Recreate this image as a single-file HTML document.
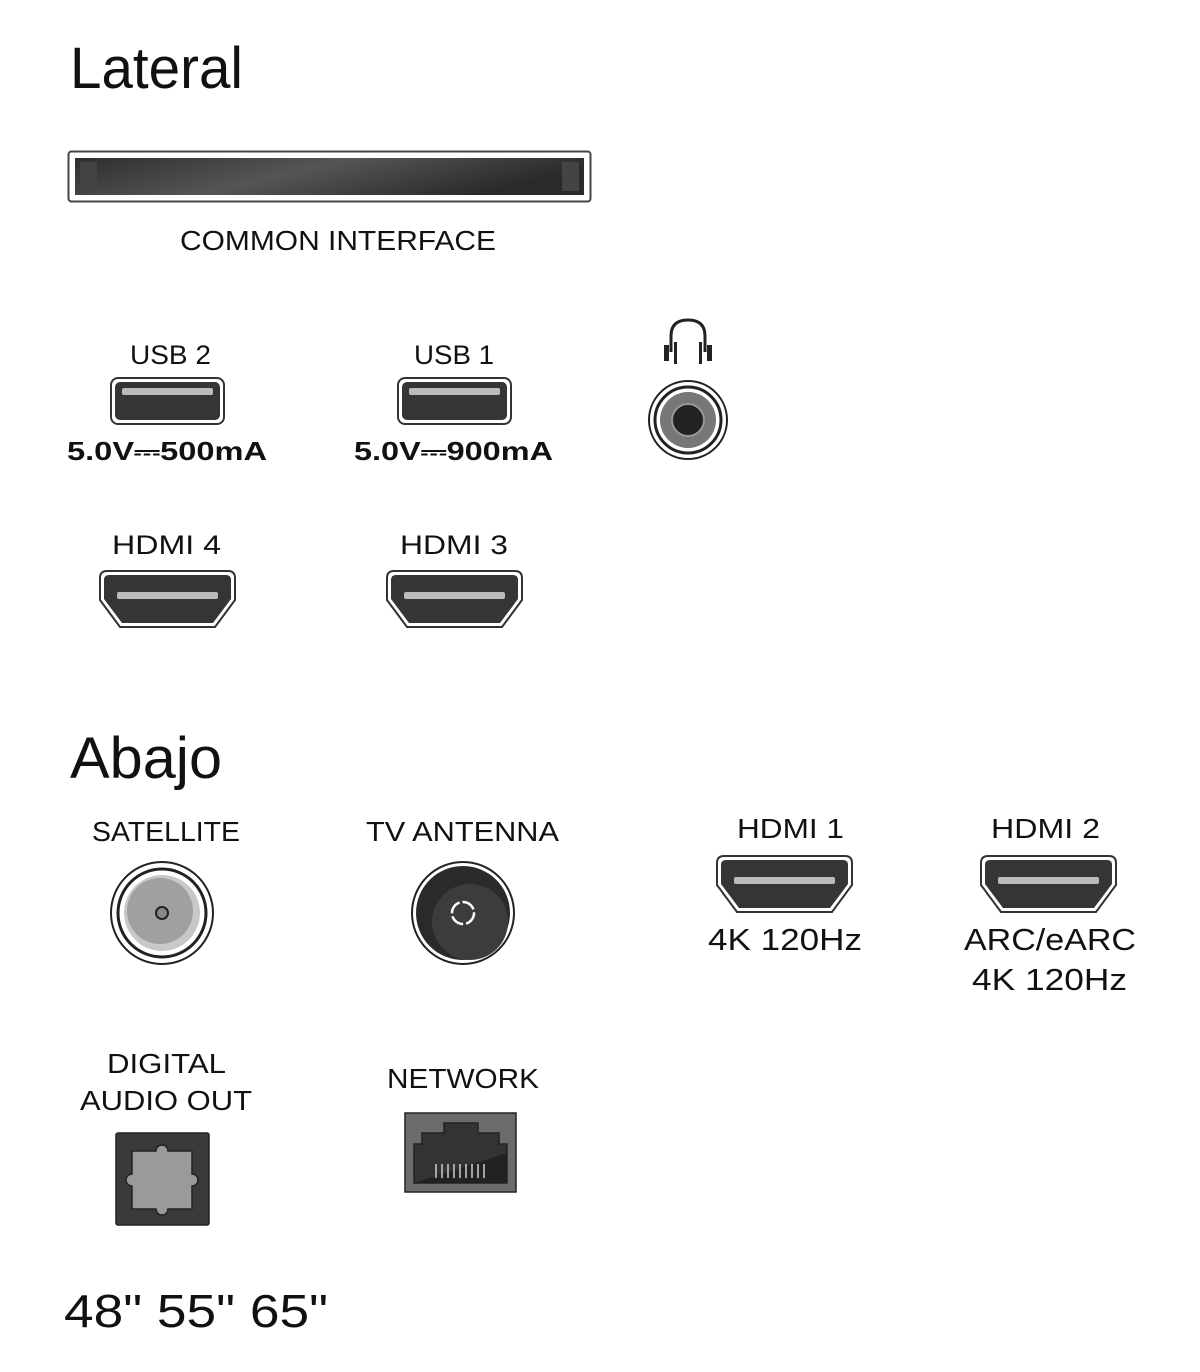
<!DOCTYPE html>
<html><head><meta charset="utf-8"><style>
html,body{margin:0;padding:0;background:#fff;}
svg{display:block}
text{font-family:"Liberation Sans","DejaVu Sans",sans-serif;fill:#111;}
</style></head><body>
<svg width="1200" height="1372" viewBox="0 0 1200 1372" xmlns="http://www.w3.org/2000/svg">
<defs>
<linearGradient id="ci" x1="0" y1="0" x2="1" y2="0.3">
<stop offset="0" stop-color="#2e2e2e"/><stop offset="0.5" stop-color="#555"/><stop offset="1" stop-color="#2a2a2a"/>
</linearGradient>
<g id="hdmi">
<path d="M8,1 H129 Q136,1 136,8 V30 L116,57 H21 L1,30 V8 Q1,1 8,1 Z" fill="#fff" stroke="#333" stroke-width="2"/>
<path d="M10,5 H127 Q132,5 132,10 V29 L114,53 H23 L5,29 V10 Q5,5 10,5 Z" fill="#353535"/>
<rect x="18" y="22" width="101" height="7" rx="2" fill="#bbb"/>
</g>
<g id="usb">
<rect x="1" y="1" width="113" height="46" rx="7" fill="#fff" stroke="#333" stroke-width="2"/>
<rect x="5" y="5" width="105" height="38" rx="5" fill="#353535"/>
<rect x="12" y="11" width="91" height="7" rx="2" fill="#bbb"/>
</g>
</defs>

<text x="70" y="88" font-size="58" textLength="173" lengthAdjust="spacingAndGlyphs">Lateral</text>

<rect x="68.5" y="151.5" width="522" height="50" rx="3" fill="#fff" stroke="#444" stroke-width="2"/>
<rect x="75" y="158" width="509" height="37" fill="url(#ci)"/>
<rect x="80" y="162" width="17" height="29" fill="#444"/>
<rect x="562" y="162" width="17" height="29" fill="#444"/>
<text x="180" y="250" font-size="28" textLength="316" lengthAdjust="spacingAndGlyphs">COMMON INTERFACE</text>

<text x="130" y="364" font-size="27" textLength="81" lengthAdjust="spacingAndGlyphs">USB 2</text>
<use href="#usb" x="110" y="377"/>
<text x="67" y="460" font-size="26" font-weight="bold" fill="#222" textLength="200" lengthAdjust="spacingAndGlyphs">5.0V⎓500mA</text>

<text x="414" y="364" font-size="27" textLength="80" lengthAdjust="spacingAndGlyphs">USB 1</text>
<use href="#usb" x="397" y="377"/>
<text x="354" y="460" font-size="26" font-weight="bold" fill="#222" textLength="199" lengthAdjust="spacingAndGlyphs">5.0V⎓900mA</text>

<!-- headphones -->
<path d="M671,352 V336 Q671,320 688,320 Q705,320 705,336 V352" fill="none" stroke="#222" stroke-width="3"/>
<rect x="664" y="345" width="5" height="16" fill="#222"/>
<rect x="674" y="342" width="3" height="22" fill="#222"/>
<rect x="699" y="342" width="3" height="22" fill="#222"/>
<rect x="707" y="345" width="5" height="16" fill="#222"/>
<circle cx="688" cy="420" r="39" fill="#fff" stroke="#222" stroke-width="2"/>
<circle cx="688" cy="420" r="33" fill="#fff" stroke="#222" stroke-width="3"/>
<circle cx="688" cy="420" r="28" fill="#777"/>
<circle cx="688" cy="420" r="17" fill="#999"/>
<circle cx="688" cy="420" r="15" fill="#222"/>

<text x="112" y="554" font-size="27" textLength="109" lengthAdjust="spacingAndGlyphs">HDMI 4</text>
<use href="#hdmi" x="99" y="570"/>
<text x="400" y="554" font-size="27" textLength="108" lengthAdjust="spacingAndGlyphs">HDMI 3</text>
<use href="#hdmi" x="386" y="570"/>

<text x="70" y="778" font-size="58" textLength="152" lengthAdjust="spacingAndGlyphs">Abajo</text>

<text x="92" y="841" font-size="28" textLength="148" lengthAdjust="spacingAndGlyphs">SATELLITE</text>
<circle cx="162" cy="913" r="51" fill="#fff" stroke="#222" stroke-width="2"/>
<circle cx="162" cy="913" r="44" fill="#fff" stroke="#222" stroke-width="3"/>
<circle cx="162" cy="913" r="38" fill="#c8c8c8"/>
<circle cx="160" cy="911" r="33" fill="#a0a0a0"/>
<circle cx="162" cy="913" r="6" fill="#888" stroke="#222" stroke-width="2"/>

<text x="366" y="841" font-size="28" textLength="193" lengthAdjust="spacingAndGlyphs">TV ANTENNA</text>
<circle cx="463" cy="913" r="51" fill="#fff" stroke="#222" stroke-width="2"/>
<circle cx="463" cy="913" r="47" fill="#2a2a2a"/>
<circle cx="470" cy="922" r="38" fill="#3c3c3c"/>
<circle cx="463" cy="913" r="11" fill="none" stroke="#fff" stroke-width="2.5" stroke-dasharray="14 3"/>

<text x="737" y="838" font-size="28" textLength="107" lengthAdjust="spacingAndGlyphs">HDMI 1</text>
<use href="#hdmi" x="716" y="855"/>
<text x="708" y="950" font-size="31" fill="#333" textLength="154" lengthAdjust="spacingAndGlyphs">4K 120Hz</text>

<text x="991" y="838" font-size="28" textLength="109" lengthAdjust="spacingAndGlyphs">HDMI 2</text>
<use href="#hdmi" x="980" y="855"/>
<text x="964" y="950" font-size="31" fill="#333" textLength="172" lengthAdjust="spacingAndGlyphs">ARC/eARC</text>
<text x="972" y="990" font-size="31" fill="#333" textLength="155" lengthAdjust="spacingAndGlyphs">4K 120Hz</text>

<text x="107" y="1073" font-size="28" textLength="119" lengthAdjust="spacingAndGlyphs">DIGITAL</text>
<text x="80" y="1110" font-size="28" textLength="172" lengthAdjust="spacingAndGlyphs">AUDIO OUT</text>
<rect x="116" y="1133" width="93" height="92" rx="2" fill="#3a3a3a" stroke="#222" stroke-width="1.5"/>
<path d="M132,1151 H156 A6,6 0 0 1 168,1151 H192 V1174 A6,6 0 0 1 192,1186 V1209 H168 A6,6 0 0 1 156,1209 H132 V1186 A6,6 0 0 1 132,1174 Z" fill="#9a9a9a" stroke="#222" stroke-width="1.5"/>

<text x="387" y="1088" font-size="28" textLength="152" lengthAdjust="spacingAndGlyphs">NETWORK</text>
<rect x="405" y="1113" width="111" height="79" fill="#6b6b6b" stroke="#222" stroke-width="1.5"/>
<path d="M414,1183 V1144 H422 V1133 H444 V1123 H478 V1133 H499 V1144 H507 V1183 Z" fill="#333" stroke="#222" stroke-width="1.5"/>
<path d="M414,1183 L507,1153 V1183 Z" fill="#222"/>
<g stroke="#ccc" stroke-width="1.5">
<line x1="436" y1="1164" x2="436" y2="1178"/><line x1="442" y1="1164" x2="442" y2="1178"/><line x1="448" y1="1164" x2="448" y2="1178"/><line x1="454" y1="1164" x2="454" y2="1178"/><line x1="460" y1="1164" x2="460" y2="1178"/><line x1="466" y1="1164" x2="466" y2="1178"/><line x1="472" y1="1164" x2="472" y2="1178"/><line x1="478" y1="1164" x2="478" y2="1178"/><line x1="484" y1="1164" x2="484" y2="1178"/>
</g>

<text x="64" y="1327" font-size="46" textLength="264" lengthAdjust="spacingAndGlyphs">48" 55" 65"</text>
</svg>
</body></html>
